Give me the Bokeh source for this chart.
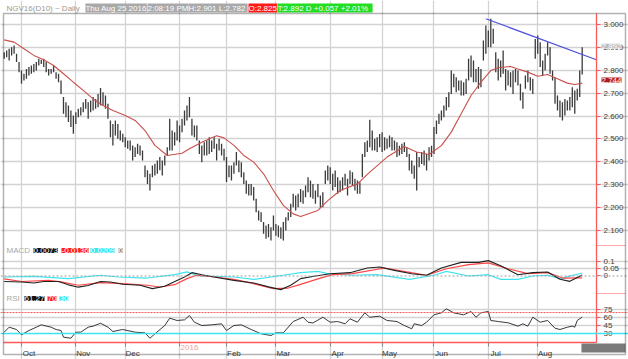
from bokeh.plotting import figure
from bokeh.models import Range1d, FixedTicker, Label, Span, BoxAnnotation
from bokeh.embed import file_html
from bokeh.resources import INLINE

# ---------------- data (trading-day index: 0 = 1 Oct 2015) ----------------
start_day = -7
bar_high = [
    2.879, 2.886, 2.894, 2.901, 2.908, 2.872, 2.836, 2.799, 2.785, 2.806,
    2.814, 2.821, 2.828, 2.836, 2.850, 2.846, 2.850, 2.836, 2.806, 2.806,
    2.821, 2.792, 2.785, 2.755, 2.683, 2.661, 2.646, 2.624, 2.603, 2.617,
    2.632, 2.639, 2.661, 2.675, 2.661, 2.668, 2.683, 2.675, 2.697, 2.723,
    2.704, 2.690, 2.654, 2.581, 2.566, 2.581, 2.566, 2.537, 2.523, 2.508,
    2.493, 2.493, 2.472, 2.464, 2.479, 2.472, 2.450, 2.384, 2.363, 2.348,
    2.384, 2.392, 2.406, 2.421, 2.406, 2.428, 2.464, 2.588, 2.537, 2.530,
    2.581, 2.559, 2.588, 2.624, 2.646, 2.683, 2.588, 2.559, 2.559, 2.493,
    2.472, 2.486, 2.493, 2.508, 2.493, 2.508, 2.479, 2.501, 2.479, 2.457,
    2.421, 2.384, 2.384, 2.399, 2.443, 2.406, 2.399, 2.355, 2.319, 2.304,
    2.304, 2.290, 2.239, 2.188, 2.180, 2.137, 2.122, 2.129, 2.115, 2.166,
    2.129, 2.122, 2.115, 2.137, 2.158, 2.180, 2.217, 2.261,
    2.253, 2.261, 2.282, 2.275, 2.297, 2.333, 2.319, 2.304, 2.275, 2.304,
    2.253, 2.268, 2.362, 2.384, 2.377, 2.348, 2.362, 2.333, 2.319, 2.333,
    2.348, 2.326, 2.362, 2.355, 2.326, 2.319, 2.311, 2.435, 2.486, 2.493,
    2.584, 2.537, 2.501, 2.508, 2.522, 2.530, 2.508, 2.501, 2.515, 2.508,
    2.493, 2.486, 2.471, 2.479, 2.486, 2.464, 2.435, 2.406, 2.384, 2.443,
    2.421, 2.443, 2.450, 2.435, 2.464, 2.471, 2.552, 2.581, 2.610, 2.624,
    2.646, 2.683, 2.704, 2.799, 2.785, 2.770, 2.755, 2.755, 2.748, 2.763,
    2.850, 2.865, 2.843, 2.806, 2.814, 2.806, 2.930, 2.996, 2.974, 3.025,
    2.981, 2.879, 2.850, 2.843, 2.886, 2.806, 2.799, 2.792, 2.799, 2.806,
    2.799, 2.741, 2.704, 2.777, 2.799, 2.770, 2.763, 2.937, 2.952, 2.923,
    2.843, 2.872, 2.923, 2.901, 2.799, 2.770, 2.690, 2.668, 2.661, 2.675,
    2.668, 2.683, 2.726, 2.712, 2.719, 2.799, 2.901,
]
bar_low = [
    2.850, 2.857, 2.843, 2.865, 2.872, 2.836, 2.792, 2.741, 2.755, 2.763,
    2.777, 2.785, 2.792, 2.799, 2.821, 2.828, 2.814, 2.792, 2.777, 2.785,
    2.792, 2.763, 2.748, 2.697, 2.610, 2.595, 2.574, 2.552, 2.523, 2.566,
    2.595, 2.603, 2.617, 2.632, 2.588, 2.617, 2.624, 2.632, 2.639, 2.646,
    2.646, 2.632, 2.588, 2.508, 2.472, 2.515, 2.501, 2.493, 2.486, 2.464,
    2.457, 2.450, 2.406, 2.421, 2.435, 2.428, 2.406, 2.333, 2.304, 2.275,
    2.333, 2.341, 2.348, 2.363, 2.341, 2.384, 2.428, 2.450, 2.450, 2.472,
    2.493, 2.486, 2.530, 2.559, 2.581, 2.595, 2.515, 2.508, 2.493, 2.435,
    2.399, 2.428, 2.428, 2.435, 2.443, 2.457, 2.406, 2.450, 2.428, 2.406,
    2.312, 2.333, 2.319, 2.348, 2.384, 2.355, 2.333, 2.304, 2.261, 2.253,
    2.253, 2.231, 2.180, 2.144, 2.137, 2.086, 2.064, 2.071, 2.057, 2.100,
    2.078, 2.071, 2.064, 2.057, 2.100, 2.144, 2.159, 2.202,
    2.188, 2.202, 2.224, 2.217, 2.246, 2.268, 2.246, 2.239, 2.217, 2.246,
    2.202, 2.202, 2.304, 2.319, 2.304, 2.275, 2.290, 2.261, 2.268, 2.275,
    2.297, 2.253, 2.304, 2.297, 2.275, 2.261, 2.261, 2.333, 2.421, 2.443,
    2.464, 2.450, 2.450, 2.443, 2.464, 2.443, 2.450, 2.457, 2.464, 2.450,
    2.450, 2.421, 2.428, 2.435, 2.443, 2.421, 2.362, 2.348, 2.326, 2.275,
    2.377, 2.391, 2.384, 2.362, 2.406, 2.421, 2.435, 2.522, 2.566, 2.581,
    2.595, 2.624, 2.639, 2.697, 2.726, 2.704, 2.712, 2.690, 2.690, 2.697,
    2.755, 2.770, 2.748, 2.748, 2.719, 2.726, 2.843, 2.872, 2.901, 2.901,
    2.916, 2.792, 2.755, 2.770, 2.785, 2.712, 2.734, 2.726, 2.697, 2.748,
    2.734, 2.668, 2.632, 2.719, 2.748, 2.712, 2.697, 2.850, 2.872, 2.814,
    2.777, 2.799, 2.865, 2.785, 2.755, 2.654, 2.624, 2.595, 2.581, 2.603,
    2.624, 2.624, 2.639, 2.610, 2.668, 2.683, 2.782,
]

ma_day = [-7, -3, 1, 5, 9, 13, 17, 21, 25, 29, 33, 37, 42, 46, 50, 54, 59, 65, 68, 73,
          77, 79, 82, 86, 90, 94, 98, 102, 106, 110, 113, 120, 124, 129, 136, 141, 148,
          155, 160, 165, 170, 174, 178, 182, 186, 190, 193, 198, 201, 205, 209, 213,
          217, 221, 224, 227]
ma_val = [2.933, 2.923, 2.894, 2.865, 2.846, 2.821, 2.785, 2.748, 2.712, 2.675, 2.646,
          2.624, 2.603, 2.581, 2.537, 2.472, 2.428, 2.438, 2.457, 2.486, 2.505, 2.514,
          2.505, 2.472, 2.428, 2.399, 2.348, 2.275, 2.210, 2.173, 2.162, 2.188, 2.231,
          2.275, 2.304, 2.355, 2.421, 2.467, 2.443, 2.432, 2.471, 2.530, 2.610, 2.690,
          2.748, 2.799, 2.811, 2.817, 2.806, 2.792, 2.774, 2.782, 2.763, 2.744, 2.738,
          2.744]

trend_day = [188, 233]
trend_val = [3.025, 2.845]

macd_day = [-7, 0, 5, 9, 15, 19, 23, 27, 32, 36, 41, 48, 53, 58, 61, 66, 69, 73, 78, 86,
            94, 100, 105, 109, 113, 119, 125, 133, 140, 145, 151, 158, 164, 170, 178, 185,
            189, 194, 201, 207, 213, 218, 222, 227]
macd_val = [-0.038, -0.041, -0.048, -0.038, -0.038, -0.061, -0.077, -0.066, -0.038, -0.041,
            -0.057, -0.064, -0.087, -0.071, -0.046, -0.007, 0.023, 0.009, -0.007, -0.030,
            -0.048, -0.075, -0.094, -0.064, -0.018, 0.0, 0.016, 0.023, 0.055, 0.062,
            0.039, 0.016, 0.005, 0.055, 0.094, 0.094, 0.106, 0.071, 0.009, 0.023, 0.028,
            -0.023, -0.037, 0.0073]
signal_day = [-7, 0, 11, 16, 23, 32, 41, 51, 56, 62, 67, 71, 78, 86, 94, 102, 108, 113,
              120, 126, 134, 147, 156, 164, 172, 181, 189, 197, 205, 213, 219, 227]
signal_val = [-0.020, -0.038, -0.030, -0.041, -0.064, -0.046, -0.053, -0.064, -0.076,
              -0.060, -0.018, 0.005, -0.007, -0.023, -0.053, -0.087, -0.083, -0.058,
              -0.020, 0.009, 0.016, 0.055, 0.028, 0.005, 0.050, 0.078, 0.090, 0.050,
              0.016, 0.023, -0.014, -0.0136]
diff_day = [-7, 5, 19, 32, 39, 51, 62, 67, 72, 86, 94, 106, 113, 120, 124, 134, 144, 157,
            167, 172, 181, 189, 194, 201, 207, 213, 218, 227]
diff_val = [-0.007, -0.002, -0.018, 0.005, -0.007, -0.014, 0.009, 0.028, 0.0, -0.007,
            -0.023, 0.005, 0.023, 0.032, 0.016, 0.005, 0.009, -0.023, 0.005, 0.032, 0.0,
            0.009, -0.023, -0.023, 0.0, 0.005, -0.018, 0.0209]

rsi_day = [-7, -5, -2, 0, 3, 6, 8, 12, 14, 16, 17, 20, 22, 24, 27, 29, 32, 35, 37, 41, 46,
           50, 52, 54, 58, 60, 63, 66, 68, 70, 73, 77, 81, 83, 86, 89, 93, 97, 101, 103,
           106, 110, 114, 116, 118, 122, 125, 128, 131, 133, 136, 139, 141, 145, 148, 152,
           155, 158, 159, 162, 164, 167, 170, 172, 175, 179, 182, 184, 186, 189, 190, 193,
           197, 201, 203, 205, 207, 210, 213, 216, 218, 221, 223, 224, 225, 227]
rsi_val = [32.5, 42, 37.6, 27.5, 35.7, 42, 46.5, 42, 37.6, 35.7, 23, 21, 32.5, 32.5, 42, 44,
           49.6, 42, 33.8, 37.6, 32.5, 31.3, 21, 29.4, 45.2, 59.2, 54.8, 56, 64.3, 51.5,
           45.2, 46.5, 48.4, 35.7, 45.2, 46.5, 37.6, 29.4, 26.2, 31.3, 31.3, 52.8, 61,
           51.5, 50, 61, 51.5, 52.8, 48.5, 58, 51.5, 69.4, 61, 63, 54.8, 52.8, 45.2, 39,
           48.5, 45.2, 51.5, 65.6, 69.4, 77, 69.4, 65.6, 71.9, 61, 69.4, 71.9, 54.8, 52.8,
           50.4, 44, 48.5, 44, 61, 51.5, 54.8, 40, 37.6, 42, 44, 42, 54.8, 61.27]

month_start_day = [0, 22, 42, 64, 83, 103, 125, 146, 167, 189, 209]
month_label = ["Oct", "Nov", "Dec", "2016", "Feb", "Mar", "Apr", "May", "Jun", "Jul", "Aug"]
price_ticks = [2.1, 2.2, 2.3, 2.4, 2.5, 2.6, 2.7, 2.8, 2.9, 3.0]
macd_ticks = [0.1, 0.05, 0.0]
macd_tick_text = ["0.1", "0.05", "0"]
rsi_ticks = [75, 60, 45, 30]

# ---------------- layout constants (the whole figure is the frame) ----------------
X0, XE = -8.502, 245.75        # figure left / right edge (trading-day units)
XP = 232.79                    # end of plot area (red axis line)
X_LB, X_RB = -7.29, 244.53     # black border left / right
YB, YT = 1.5371, 3.1048        # figure bottom / top (price units)
Y_TOP, Y_AX, Y_BB = 3.048, 1.6114, 1.5590   # top border, x-axis line, bottom border
Y_SPLIT1, Y_SPLIT2 = 2.0349, 1.8253         # panel separators
MACD_R = (-0.5759, 1.9000)
RSI_R = (-19.52, 664.29)


def to_main(v, r):
    return round(YB + (v - r[0]) / (r[1] - r[0]) * (YT - YB), 6)


FONT = "Liberation Sans"
RED = "#ff5a5a"
CYAN = "#3fe3f0"
GRID = "#d3d3d3"

p = figure(width=628, height=359, x_range=Range1d(X0, XE), y_range=Range1d(YB, YT),
           output_backend="svg", toolbar_location=None, y_axis_location="right",
           min_border=0)
p.outline_line_color = None
p.background_fill_color = "white"
p.border_fill_color = "white"
p.extra_y_ranges = {"macd": Range1d(*MACD_R), "rsi": Range1d(*RSI_R)}

# grids
p.xgrid.ticker = FixedTicker(ticks=month_start_day)
p.xgrid.bounds = (Y_AX, Y_TOP)
grid_ticks = list(price_ticks) + [to_main(v, MACD_R) for v in macd_ticks[:2]] + \
    [to_main(v, RSI_R) for v in rsi_ticks[:3]]
p.ygrid.ticker = FixedTicker(ticks=grid_ticks)
p.ygrid.bounds = (X_LB, XP)
p.grid.grid_line_color = GRID
p.grid.grid_line_width = 1.3

# right axis: price + MACD + RSI labels on one axis
ax_ticks, ax_over = [], {}
for t in price_ticks:
    ax_ticks.append(t)
    ax_over[t] = f"{t:.3f}"
for v, s in zip(macd_ticks, macd_tick_text):
    k = to_main(v, MACD_R)
    ax_ticks.append(k)
    ax_over[k] = s
for v in rsi_ticks:
    k = to_main(v, RSI_R)
    ax_ticks.append(k)
    ax_over[k] = str(v)
ya = p.yaxis[0]
ya.fixed_location = XP
ya.bounds = (Y_AX, Y_TOP)
ya.ticker = FixedTicker(ticks=ax_ticks)
ya.major_label_overrides = ax_over
ya.axis_line_color = RED
ya.axis_line_width = 1.3
ya.major_tick_line_color = RED
ya.major_tick_out = 4
ya.major_tick_in = 0
ya.minor_tick_line_color = None
ya.major_label_standoff = 3
ya.major_label_text_font = FONT
ya.major_label_text_font_size = "8px"
ya.major_label_text_color = "#404040"

# bottom axis
lab_ticks, lab_over = [], {}
for d, s in zip(month_start_day, month_label):
    if s == "2016":
        continue
    lab_ticks.append(d + 3)
    lab_over[d + 3] = s
xa = p.xaxis[0]
xa.fixed_location = Y_AX
xa.bounds = (X_LB, XP)
xa.ticker = FixedTicker(ticks=lab_ticks, minor_ticks=month_start_day)
xa.major_label_overrides = lab_over
xa.axis_line_color = RED
xa.axis_line_width = 1.5
xa.major_tick_out = 0
xa.major_tick_in = 0
xa.minor_tick_out = 4
xa.minor_tick_in = 0
xa.minor_tick_line_color = "#8a8a8a"
xa.major_label_standoff = 3
xa.major_label_text_font = FONT
xa.major_label_text_font_size = "8px"
xa.major_label_text_color = "#404040"

# outer border, axis-strip separators, scroll box
p.add_layout(BoxAnnotation(left=X_LB, right=X_RB, top=Y_TOP, bottom=Y_BB, fill_alpha=0,
                           line_color="black", line_width=1.5, level="overlay"))
for ys in (Y_SPLIT1, Y_SPLIT2):
    p.add_layout(BoxAnnotation(left=XP, right=X_RB, top=ys, bottom=ys, fill_alpha=0,
                               line_color=RED, line_width=1))
p.add_layout(BoxAnnotation(left=226.7, right=X_RB, top=1.607, bottom=1.5677,
                           fill_color="#7a7a7a", fill_alpha=1, line_color=None))

# reference lines
p.add_layout(Span(location=0, dimension="width", y_range_name="macd",
                  line_color="#a0a0a0", line_dash="2 2", line_width=1))
p.add_layout(Span(location=70, dimension="width", y_range_name="rsi",
                  line_color=RED, line_dash="2 1", line_width=1))
p.add_layout(Span(location=30, dimension="width", y_range_name="rsi",
                  line_color=CYAN, line_width=1.3))

# price bars, moving average, trend line
days = list(range(start_day, start_day + len(bar_high)))
p.segment(x0=days, y0=bar_low, x1=days, y1=bar_high, line_color="#3a3a3a", line_width=1.3)
p.line(ma_day, ma_val, line_color="#c8504a", line_width=1.1)
p.line(trend_day, trend_val, line_color="#5050dc", line_width=1.2)

# MACD
p.line(diff_day, diff_val, y_range_name="macd", line_color=CYAN, line_width=1.2)
p.line(signal_day, signal_val, y_range_name="macd", line_color="#ff4444", line_width=1.2)
p.line(macd_day, macd_val, y_range_name="macd", line_color="#222222", line_width=1.1)

# RSI
p.line(rsi_day, rsi_val, y_range_name="rsi", line_color="#222222", line_width=0.9)


def tag(text, x, y, bg, fg, rng="default", baseline="middle", yoff=0, xoff=0, size="8px"):
    kw = dict(x=x, y=y, text=text, text_font=FONT, text_font_size=size, text_color=fg,
              text_baseline=baseline, y_offset=yoff, x_offset=xoff)
    if bg is not None:
        kw["background_fill_color"] = bg
    if rng != "default":
        kw["y_range_name"] = rng
    p.add_layout(Label(**kw))


# header
tag("NGV16(D10) ~ Daily", -6.07, Y_TOP, None, "#9a9a9a", baseline="bottom", yoff=1)
tag("Thu Aug 25 2016", 25.9, Y_TOP, "#a9a9a9", "white", baseline="bottom", yoff=1)
tag("2:08:19 PM", 51.0, Y_TOP, "#a9a9a9", "white", baseline="bottom", yoff=1)
tag("H:2.901  L:2.782", 67.6, Y_TOP, "#a9a9a9", "white", baseline="bottom", yoff=1)
tag("O:2.825", 91.9, Y_TOP, "#ff1a1a", "white", baseline="bottom", yoff=1)
tag("T:2.892 D  +0.057  +2.01%", 103.6, Y_TOP, "#22dd22", "white", baseline="bottom", yoff=1)

# MACD legend
tag("MACD", -6.07, 0.1759, None, "#a8a8a8", rng="macd")
tag("0.0073", 4.86, 0.1759, "#111111", "white", rng="macd")
tag("-0.0136", 16.19, 0.1759, "#ff2020", "white", rng="macd")
tag("0.0209", 27.94, 0.1759, "#33e6f5", "white", rng="macd")
tag("0", 39.27, 0.1759, "#9a9a9a", "white", rng="macd")

# RSI legend
tag("RSI", -6.07, 96.67, None, "#a8a8a8", rng="rsi")
tag("61.27", 1.21, 96.67, "#111111", "white", rng="rsi")
tag("70", 10.53, 96.67, "#ff2020", "white", rng="rsi")
tag("30", 15.38, 96.67, "#33e6f5", "white", rng="rsi")

# value boxes on the price axis
tag("2.892", XP, 2.892, "#bdbdbd", "white", xoff=5, yoff=3)
tag("2.744", XP, 2.744, "#b01c1c", "white", xoff=5, yoff=3)

# year label under the axis
tag("2016", 64.4, Y_AX, None, "#f2a0a0", baseline="top", yoff=-3)

open("out.html", "w").write(file_html(p, INLINE))
